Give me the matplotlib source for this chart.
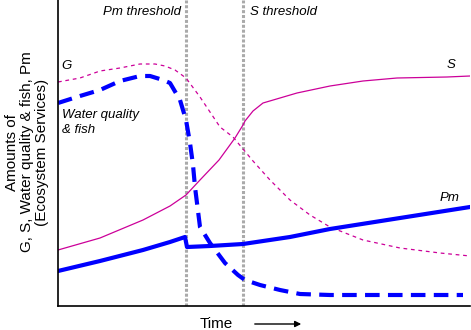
import matplotlib
matplotlib.use("Agg")
import matplotlib.pyplot as plt

plt.rcParams['font.family'] = ['Liberation Sans', 'DejaVu Sans']

# values (time units and amounts are arbitrary)
t_g = [0, 22, 42, 62, 82, 97, 107, 117, 128, 142, 162, 175, 195, 212, 232, 252, 272, 305, 342, 382, 412]
g = [224, 228, 235, 238, 242, 242, 240, 236, 228, 209, 179, 169, 145, 126, 106, 91, 79, 66, 58, 53, 50]

t_s = [0, 42, 85, 112, 128, 142, 161, 177, 185, 187, 195, 205, 222, 239, 272, 305, 339, 389, 412]
s = [56, 68, 86, 100, 111, 126, 146, 168, 181, 185, 195, 203, 208, 213, 220, 225, 228, 229, 230]

t_pm = [0, 42, 85, 112, 127, 129, 152, 185, 232, 272, 342, 412]
pm = [35, 45, 56, 64, 69, 59, 60, 62, 69, 77, 88, 99]

t_w = [0, 22, 42, 62, 82, 92, 105, 112, 122, 128, 132, 135, 137, 142, 152, 167, 180, 187, 202, 222, 242, 272, 405]
water = [203, 210, 216, 225, 230, 230, 226, 223, 206, 186, 163, 141, 119, 79, 63, 43, 31, 26, 21, 16, 12, 11, 11]

pm_threshold = 128
s_threshold = 185

fig = plt.figure(figsize=(4.71, 3.30), dpi=100)
ax = fig.add_axes([58 / 471, 24 / 330, 412 / 471, 306 / 330])
ax.set_xlim(0, 412)
ax.set_ylim(0, 306)

magenta = '#cc0099'
blue = '#0000ff'

ax.axvline(pm_threshold, color='#aaaaaa', lw=2.2, ls=(0, (1, 0.6)), zorder=1)
ax.axvline(s_threshold, color='#aaaaaa', lw=2.2, ls=(0, (1, 0.6)), zorder=1)

ax.plot(t_g, g, color=magenta, lw=0.9, ls=(0, (3, 3)))
ax.plot(t_s, s, color=magenta, lw=0.9)
ax.plot(t_pm, pm, color=blue, lw=3)
ax.plot(t_w, water, color=blue, lw=3, ls=(0, (3.5, 2)))

ax.text(123, 294, 'Pm threshold', ha='right', va='center', style='italic', fontsize=9.5)
ax.text(192, 294, 'S threshold', ha='left', va='center', style='italic', fontsize=9.5)
ax.text(3, 240, 'G', ha='left', va='center', style='italic', fontsize=9.5)
ax.text(389, 241, 'S', ha='left', va='center', style='italic', fontsize=9.5)
ax.text(382, 108, 'Pm', ha='left', va='center', style='italic', fontsize=9.5)
ax.text(4, 191, 'Water quality', ha='left', va='center', style='italic', fontsize=9.5)
ax.text(4, 176, '& fish', ha='left', va='center', style='italic', fontsize=9.5)

for side in ['top', 'right']:
    ax.spines[side].set_visible(False)
ax.spines['left'].set_linewidth(1.2)
ax.spines['bottom'].set_linewidth(1.2)
ax.set_xticks([])
ax.set_yticks([])

fig.text(27 / 471, 1 - 152 / 330, 'Amounts of\nG, S, Water quality & fish, Pm\n(Ecosystem Services)',
         rotation=90, ha='center', va='center', multialignment='center', fontsize=11, linespacing=1.05)
fig.text(200 / 471, 1 - 328 / 330, 'Time', ha='left', va='baseline', fontsize=11)
fig.add_artist(matplotlib.patches.FancyArrowPatch((252 / 471, 1 - 324 / 330), (304 / 471, 1 - 324 / 330),
                                                  transform=fig.transFigure, arrowstyle='-|>', mutation_scale=9,
                                                  color='black', lw=1))

fig.savefig('out.png', dpi=100)
